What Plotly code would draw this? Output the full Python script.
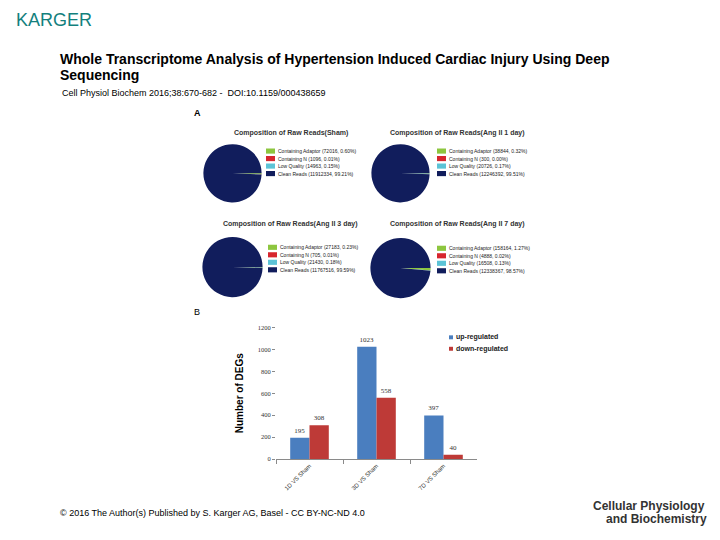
import plotly.graph_objects as go

W, H = 720, 540

# ---------------- data ----------------
pie_titles = [
    "Composition of Raw Reads(Sham)",
    "Composition of Raw Reads(Ang II 1 day)",
    "Composition of Raw Reads(Ang II 3 day)",
    "Composition of Raw Reads(Ang II 7 day)",
]
pie_labels = ["Containing Adaptor", "Containing N", "Low Quality", "Clean Reads"]
sham_counts = [72016, 1096, 14963, 11912334]
sham_pct = [0.60, 0.01, 0.15, 99.21]
ang1_counts = [38844, 300, 20726, 12246392]
ang1_pct = [0.32, 0.00, 0.17, 99.51]
ang3_counts = [27183, 705, 21430, 11767516]
ang3_pct = [0.23, 0.01, 0.18, 99.59]
ang7_counts = [158164, 4888, 16508, 12338367]
ang7_pct = [1.27, 0.02, 0.13, 98.57]

deg_categories = ["1D VS Sham", "3D VS Sham", "7D VS Sham"]
deg_series = ["up-regulated", "down-regulated"]
up_regulated = [195, 1023, 397]
down_regulated = [308, 558, 40]

# ---------------- styles ----------------
FONT = "Liberation Sans, Arial, sans-serif"
pie_colors = ["#8dc63f", "#d7262e", "#5cc3d6", "#111d5c"]
bar_colors = ["#4a7ebf", "#be3a37"]


def px(x):
    return x / W


def py(y):
    return 1 - y / H


fig = go.Figure()
annotations = []
shapes = []

# pie layout: (center x, center y, radius, title y, legend square x, legend first y)
pie_geo = [
    (232.5, 171.5, 29.5, 131, 266, 149),
    (400.5, 171.5, 29.5, 131, 437, 149),
    (232.5, 266.5, 30.5, 223, 268, 246.5),
    (400.5, 267.5, 30.5, 223, 437, 247.5),
]
pie_counts = [sham_counts, ang1_counts, ang3_counts, ang7_counts]
pie_pcts = [sham_pct, ang1_pct, ang3_pct, ang7_pct]

for i in range(4):
    cx, cy, r, ty, lx, ly = pie_geo[i]
    fig.add_trace(go.Pie(
        labels=pie_labels,
        values=pie_counts[i],
        sort=False,
        direction="clockwise",
        rotation=90,
        textinfo="none",
        hoverinfo="label+value+percent",
        marker=dict(colors=pie_colors, line=dict(width=0)),
        domain=dict(x=[px(cx - r), px(cx + r)], y=[py(cy + r), py(cy - r)]),
        showlegend=False,
    ))
    # title
    title_cx = cx + 58 if i in (0, 2) else cx + 57
    annotations.append(dict(
        text="<b>" + pie_titles[i] + "</b>", x=px(title_cx), y=py(ty),
        xref="paper", yref="paper", showarrow=False, xanchor="center", yanchor="middle",
        font=dict(family=FONT, size=7, color="#333333")))
    # legend
    for k, lab in enumerate(pie_labels):
        yc = ly + k * 7.6
        shapes.append(dict(type="rect", xref="paper", yref="paper",
                           x0=px(lx), x1=px(lx + 9), y0=py(yc + 2.6), y1=py(yc - 2.6),
                           fillcolor=pie_colors[k], line=dict(width=0)))
        annotations.append(dict(
            text="%s (%d, %.2f%%)" % (lab, pie_counts[i][k], pie_pcts[i][k]),
            x=px(lx + 10), y=py(yc), xref="paper", yref="paper", showarrow=False,
            xanchor="left", yanchor="middle",
            font=dict(family=FONT, size=5, color="#222222")))

# ---------------- bar chart ----------------
for s, vals, col in zip(deg_series, [up_regulated, down_regulated], bar_colors):
    fig.add_trace(go.Bar(
        x=deg_categories, y=vals, name=s, marker=dict(color=col, line=dict(width=0)),
        text=vals, texttemplate="%{y}", textposition="outside",
        textfont=dict(family="Liberation Serif, serif", size=7, color="#333333"),
        cliponaxis=False, showlegend=False, xaxis="x", yaxis="y"))

# manual bar legend
for k, (s, col) in enumerate(zip(deg_series, bar_colors)):
    yc = 337.7 + k * 11.6
    shapes.append(dict(type="rect", xref="paper", yref="paper",
                       x0=px(449), x1=px(453), y0=py(yc + 2), y1=py(yc - 2),
                       fillcolor=col, line=dict(width=0)))
    annotations.append(dict(text="<b>" + s + "</b>", x=px(454), y=py(yc), xref="paper", yref="paper",
                            showarrow=False, xanchor="left", yanchor="middle",
                            font=dict(family=FONT, size=7, color="#222222")))

# ---------------- page texts ----------------
annotations += [
    dict(text="KARGER", x=px(14), y=py(16), xanchor="left", yanchor="middle",
         font=dict(family=FONT, size=18, color="#13807d")),
    dict(text="<b>Whole Transcriptome Analysis of Hypertension Induced Cardiac Injury Using Deep</b>",
         x=px(58), y=py(56), xanchor="left", yanchor="middle",
         font=dict(family=FONT, size=14, color="#000000")),
    dict(text="<b>Sequencing</b>", x=px(58), y=py(72), xanchor="left", yanchor="middle",
         font=dict(family=FONT, size=14, color="#000000")),
    dict(text="Cell Physiol Biochem 2016;38:670-682 -  DOI:10.1159/000438659", x=px(60), y=py(90),
         xanchor="left", yanchor="middle", font=dict(family=FONT, size=9, color="#000000")),
    dict(text="<b>A</b>", x=px(192), y=py(110), xanchor="left", yanchor="middle",
         font=dict(family=FONT, size=9, color="#000000")),
    dict(text="B", x=px(192), y=py(312), xanchor="left", yanchor="middle",
         font=dict(family=FONT, size=9, color="#000000")),
    dict(text="© 2016 The Author(s) Published by S. Karger AG, Basel - CC BY-NC-ND 4.0", x=px(58), y=py(516),
         xanchor="left", yanchor="middle", font=dict(family=FONT, size=9, color="#000000")),
    dict(text="<b>Cellular Physiology</b>", x=px(707), y=py(509), xanchor="right", yanchor="middle",
         font=dict(family=FONT, size=12, color="#333333")),
    dict(text="<b>and Biochemistry</b>", x=px(709), y=py(522), xanchor="right", yanchor="middle",
         font=dict(family=FONT, size=12, color="#333333")),
]
for a in annotations:
    a.setdefault("xref", "paper")
    a.setdefault("yref", "paper")
    a.setdefault("showarrow", False)

fig.update_layout(
    width=W, height=H,
    margin=dict(l=0, r=0, t=0, b=0),
    paper_bgcolor="white", plot_bgcolor="white",
    barmode="group", bargap=0.424, bargroupgap=0,
    font=dict(family=FONT),
    annotations=annotations,
    shapes=shapes,
    xaxis=dict(domain=[px(276), px(477)], showline=True, linecolor="#8a8a8a", linewidth=1,
               ticks="outside", tickson="boundaries", ticklen=4, tickcolor="#8a8a8a",
               tickangle=-45, tickfont=dict(family=FONT, size=6, color="#333333"),
               showgrid=False),
    yaxis=dict(domain=[py(461), py(327.7)], range=[0, 1200], dtick=200, showgrid=False,
               zeroline=False, showline=False, ticks="outside", ticklen=3, tickcolor="#8a8a8a",
               tickfont=dict(family="Liberation Serif, serif", size=6.5, color="#333333"),
               title=dict(text="<b>Number of DEGs</b>", standoff=12,
                          font=dict(family=FONT, size=10, color="#000000"))),
)

fig.write_html("out.html", config={"displayModeBar": False},
               post_script="document.body.style.margin='0';document.body.style.overflow='hidden';")
